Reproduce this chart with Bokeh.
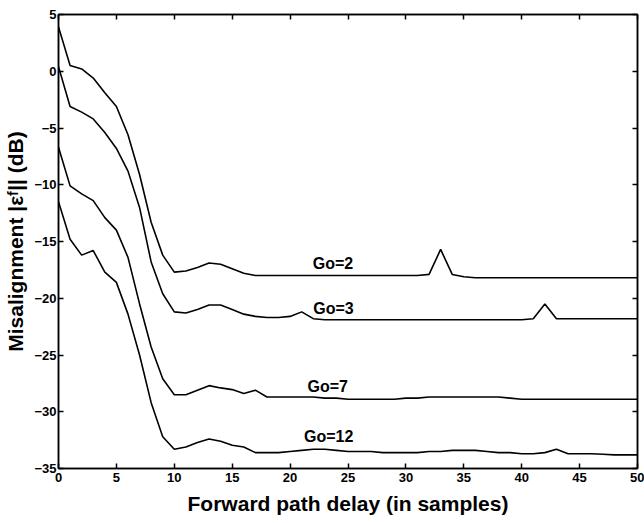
from bokeh.plotting import figure
from bokeh.models import Range1d, LinearAxis, FixedTicker
from bokeh.core.properties import value
from bokeh.embed import file_html
from bokeh.resources import INLINE

delay = list(range(0, 51))

go2 = [3.9, 0.5, 0.2, -0.6, -1.9, -3.1, -5.6, -9.1, -13.3, -16.2, -17.7,
       -17.6, -17.3, -16.9, -17.0, -17.4, -17.8, -18.0, -18.0, -18.0, -18.0,
       -18.0, -18.0, -18.0, -18.0, -18.0, -18.0, -18.0, -18.0, -18.0, -18.0,
       -18.0, -17.9, -15.7, -17.9, -18.1, -18.2, -18.2, -18.2, -18.2, -18.2,
       -18.2, -18.2, -18.2, -18.2, -18.2, -18.2, -18.2, -18.2, -18.2, -18.2]

go3 = [0.4, -3.1, -3.6, -4.2, -5.4, -6.8, -8.8, -12.0, -16.8, -19.6, -21.2,
       -21.3, -21.0, -20.6, -20.6, -21.0, -21.4, -21.6, -21.7, -21.7, -21.6,
       -21.2, -21.8, -21.9, -21.9, -21.9, -21.9, -21.9, -21.9, -21.9, -21.9,
       -21.9, -21.9, -21.9, -21.9, -21.9, -21.9, -21.9, -21.9, -21.9, -21.9,
       -21.8, -20.5, -21.8, -21.8, -21.8, -21.8, -21.8, -21.8, -21.8, -21.8]

go7 = [-6.7, -10.1, -10.8, -11.4, -12.9, -14.0, -16.4, -20.5, -24.3, -27.1, -28.5,
       -28.5, -28.1, -27.7, -27.9, -28.05, -28.4, -28.1, -28.7, -28.7, -28.7,
       -28.7, -28.7, -28.8, -28.8, -28.9, -28.9, -28.9, -28.9, -28.9, -28.8,
       -28.8, -28.7, -28.7, -28.7, -28.7, -28.7, -28.7, -28.7, -28.8, -28.9,
       -28.9, -28.9, -28.9, -28.9, -28.9, -28.9, -28.9, -28.9, -28.9, -28.9]

go12 = [-11.5, -14.8, -16.2, -15.8, -17.7, -18.6, -21.4, -25.0, -29.2, -32.2, -33.3,
        -33.1, -32.7, -32.4, -32.6, -32.95, -33.1, -33.6, -33.6, -33.6, -33.5,
        -33.4, -33.3, -33.3, -33.4, -33.5, -33.5, -33.5, -33.6, -33.6, -33.6,
        -33.6, -33.5, -33.5, -33.4, -33.4, -33.4, -33.5, -33.6, -33.6, -33.7,
        -33.7, -33.6, -33.3, -33.7, -33.7, -33.7, -33.75, -33.8, -33.8, -33.8]

curve_labels = ["Go=2", "Go=3", "Go=7", "Go=12"]
label_x = [21.95, 22.0, 21.5, 21.2]
label_y = [-17.65, -21.65, -28.5, -32.9]

x_ticks = [0, 5, 10, 15, 20, 25, 30, 35, 40, 45, 50]
y_ticks = [-35, -30, -25, -20, -15, -10, -5, 0, 5]

FONT = "Liberation Sans"

p = figure(width=644, height=523, output_backend="svg", toolbar_location=None,
           x_range=Range1d(0, 50), y_range=Range1d(-35, 5),
           min_border_left=58, min_border_right=7, min_border_top=14,
           min_border_bottom=55, background_fill_color="white",
           border_fill_color="white")
p.grid.visible = False
p.outline_line_color = "black"
p.outline_line_width = 1.5

for series in (go2, go3, go7, go12):
    p.line(delay, series, line_color="black", line_width=1.6)

p.text(x=label_x, y=label_y, text=curve_labels, text_font=value(FONT),
       text_font_style="bold", text_font_size="16px", text_color="black",
       text_align="left", text_baseline="bottom")

def style_axis(ax, ticks, show_labels):
    ax.ticker = FixedTicker(ticks=ticks)
    ax.axis_line_color = "black"
    ax.axis_line_width = 1.5
    ax.major_tick_in = 5
    ax.major_tick_out = 0
    ax.minor_tick_in = 0
    ax.minor_tick_out = 0
    ax.major_tick_line_color = "black"
    ax.major_tick_line_width = 1.5
    if show_labels:
        ax.major_label_text_font = FONT
        ax.major_label_text_font_style = "bold"
        ax.major_label_text_font_size = "13px"
        ax.major_label_text_color = "black"
        ax.axis_label_text_font = FONT
        ax.axis_label_text_font_style = "bold"
        ax.axis_label_text_color = "black"
    else:
        ax.major_label_overrides = {t: "" for t in ticks}
        ax.major_label_standoff = 0

xa = p.xaxis[0]
style_axis(xa, x_ticks, True)
xa.axis_label = "Forward path delay (in samples)"
xa.axis_label_text_font_size = "21px"
xa.major_label_standoff = 4
xa.axis_label_standoff = 7

ya = p.yaxis[0]
style_axis(ya, y_ticks, True)
ya.axis_label = "Misalignment |εᶠ|| (dB)"
ya.axis_label_text_font_size = "21px"
ya.major_label_standoff = 2
ya.axis_label_standoff = 4

top = LinearAxis()
style_axis(top, x_ticks, False)
p.add_layout(top, "above")
right = LinearAxis()
style_axis(right, y_ticks, False)
p.add_layout(right, "right")

open("out.html", "w").write(file_html(p, INLINE))
